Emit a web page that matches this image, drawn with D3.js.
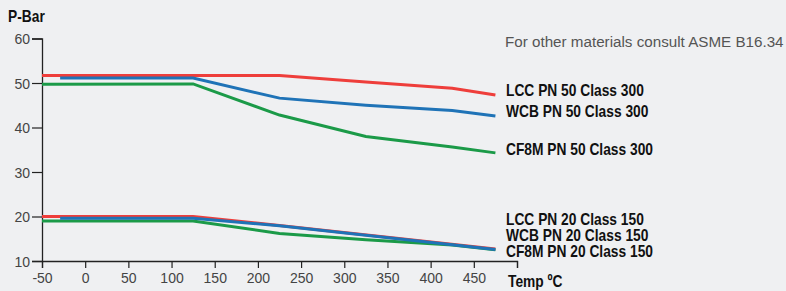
<!DOCTYPE html>
<html>
<head>
<meta charset="utf-8">
<script src="https://cdn.jsdelivr.net/npm/d3@7"></script>
<style>
  body { margin: 0; background: #eff0f2; }
  svg { display: block; }
</style>
</head>
<body>
<script>
// Temperatures (°C) and pressures (bar)
var lccTemp300 = [-50, 225, 325, 425, 475];
var lcc300     = [51.7, 51.7, 50.2, 48.8, 47.3];
var wcbTemp300 = [-29, 125, 225, 325, 425, 475];
var wcb300     = [51.1, 51.1, 46.6, 45.0, 43.8, 42.6];
var cf8mTemp300 = [-50, 125, 225, 325, 425, 475];
var cf8m300     = [49.7, 49.8, 42.8, 38.0, 35.6, 34.3];

var lccTemp150 = [-50, 125, 225, 475];
var lcc150     = [20.0, 20.0, 18.0, 12.7];
var wcbTemp150 = [-29, 125, 225, 475];
var wcb150     = [19.6, 19.6, 17.9, 12.6];
var cf8mTemp150 = [-50, 125, 225, 325, 425, 475];
var cf8m150     = [19.0, 19.0, 16.2, 14.8, 13.6, 12.5];

var xTicks = [-50, 0, 50, 100, 150, 200, 250, 300, 350, 400, 450, 500];
var xTickLabels = ["-50", "0", "50", "100", "150", "200", "250", "300", "350", "400", "450", ""];
var yTicks = [10, 20, 30, 40, 50, 60];

var seriesNames = ["LCC PN 50 Class 300", "WCB PN 50 Class 300", "CF8M PN 50 Class 300",
                   "LCC PN 20 Class 150", "WCB PN 20 Class 150", "CF8M PN 20 Class 150"];

var w = 786, h = 291;
var svg = d3.select("body").append("svg").attr("width", w).attr("height", h);

var x = d3.scaleLinear().domain([-50, 500]).range([42, 517]);
var y = d3.scaleLinear().domain([10, 60]).range([261, 38.5]);

var red = "#ee3e3b", blue = "#1f73b7", green = "#1b9a48";

function zip(t, v) { return t.map(function(d, i) { return [d, v[i]]; }); }

var series = [
  { pts: zip(lccTemp150, lcc150), color: red },
  { pts: zip(cf8mTemp150, cf8m150), color: green },
  { pts: zip(wcbTemp150, wcb150), color: blue },
  { pts: zip(lccTemp300, lcc300), color: red },
  { pts: zip(wcbTemp300, wcb300), color: blue },
  { pts: zip(cf8mTemp300, cf8m300), color: green }
];

// axes
var xAxis = d3.axisBottom(x).tickValues(xTicks).tickSize(7).tickPadding(3)
  .tickFormat(function(d, i) { return xTickLabels[i]; });
var gx = svg.append("g").attr("transform", "translate(0," + y(10) + ")").call(xAxis);
var yAxis = d3.axisLeft(y).tickValues(yTicks).tickSize(10).tickPadding(2);
var gy = svg.append("g").attr("transform", "translate(" + x(-50) + ",0)").call(yAxis);

[gx, gy].forEach(function(g) {
  g.attr("font-family", "'Liberation Sans', Arial, sans-serif").attr("font-size", 14);
  g.select(".domain").attr("stroke", "#222").attr("stroke-width", 1.3);
  g.selectAll(".tick line").attr("stroke", "#222").attr("stroke-width", 1.2);
  g.selectAll(".tick text").attr("fill", "#444");
});
gx.selectAll(".tick text").attr("dy", "0.85em");
gy.selectAll(".tick text").attr("dy", "0.36em");

// lines
var line = d3.line().x(function(d) { return x(d[0]); }).y(function(d) { return y(d[1]); });
svg.selectAll(".series").data(series).enter().append("path")
  .attr("class", "series")
  .attr("d", function(d) { return line(d.pts); })
  .attr("fill", "none")
  .attr("stroke", function(d) { return d.color; })
  .attr("stroke-width", 3);

// bold condensed labels (Liberation Sans Bold squeezed horizontally)
function boldLabel(tx, ty, str) {
  svg.append("text")
    .attr("transform", "translate(" + tx + "," + ty + ") scale(0.82,1)")
    .style("font-family", "'Liberation Sans', Arial, sans-serif")
    .style("font-weight", "bold")
    .style("font-size", "16.8px")
    .style("fill", "#111")
    .text(str);
}

var labelY = [96, 116.7, 155, 225, 240.7, 256.7];
seriesNames.forEach(function(s, i) { boldLabel(506, labelY[i], s); });

boldLabel(8, 22, "P-Bar");
boldLabel(508, 286.5, "Temp ºC");

svg.append("text")
  .attr("x", 505).attr("y", 46.5)
  .style("font-family", "'Liberation Sans', Arial, sans-serif")
  .style("font-size", "15.2px")
  .style("fill", "#555")
  .text("For other materials consult ASME B16.34");
</script>
</body>
</html>
